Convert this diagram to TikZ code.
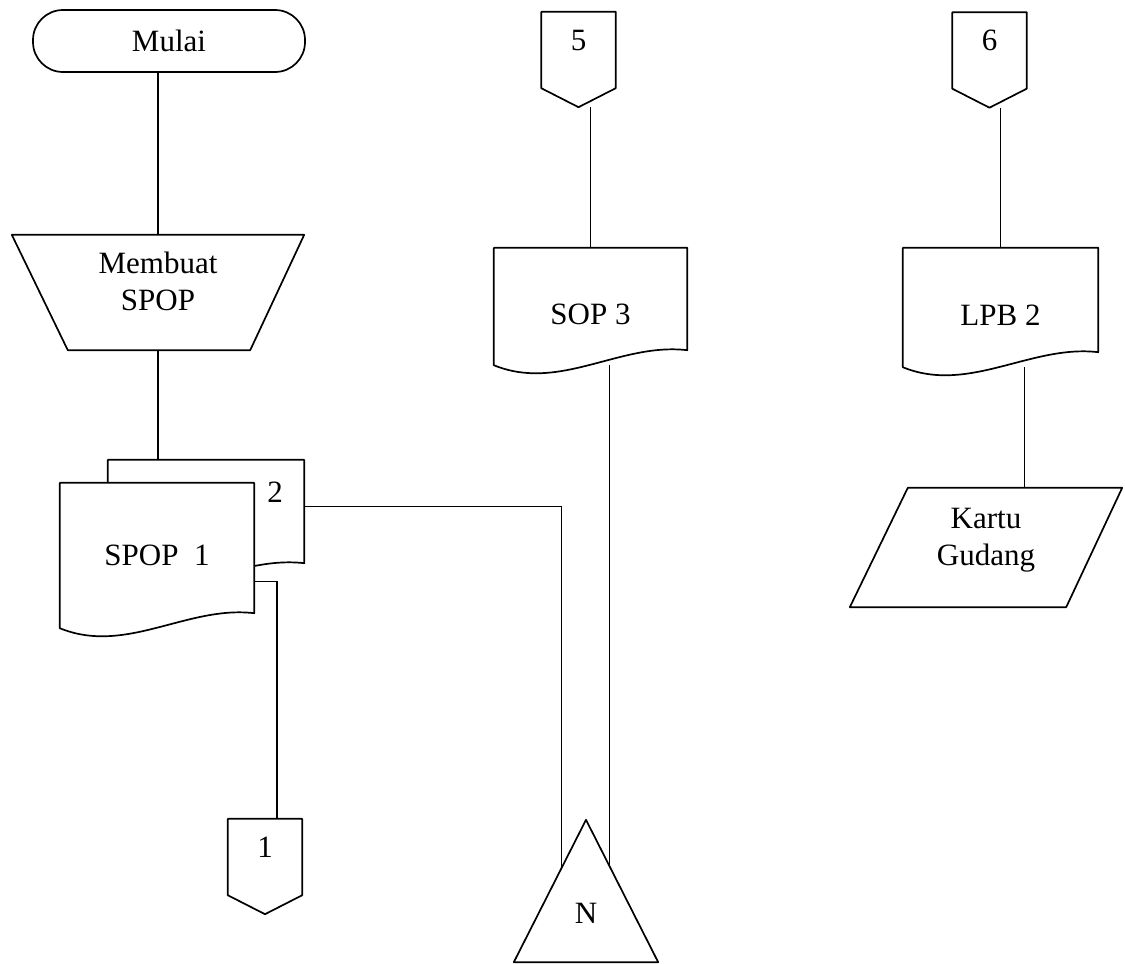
\documentclass[tikz,border=0pt]{standalone}
\usepackage{fontspec}
\setmainfont{Liberation Serif}
\usetikzlibrary{calc,backgrounds}

\begin{document}
\begin{tikzpicture}[
    x=1pt, y=-1pt,
    font=\fontsize{31}{37}\selectfont,
    shp/.style={line width=1.7pt, line join=round},
    ln/.style={line width=1.2pt},
    term/.style={draw, line width=1.7pt, rounded corners=30pt, minimum width=272pt, minimum height=62pt, inner sep=0pt},
    manop/.style={minimum width=292pt, minimum height=115pt, align=center, inner sep=0pt, text height=58pt, text depth=22pt},
    docu/.style={minimum width=194pt, minimum height=117pt, inner sep=0pt},
    lowtxt/.style={text height=36pt, text depth=0pt},
    offp/.style={minimum width=74pt, minimum height=76pt, inner sep=0pt, text depth=20pt},
    tri/.style={minimum width=144pt, minimum height=142pt, inner sep=0pt, text height=65pt, text depth=0pt},
    para/.style={minimum width=272pt, minimum height=119pt, align=center, inner sep=0pt, text height=58pt, text depth=22pt},
    lbl/.style={inner sep=0pt}
]
\useasboundingbox (0,0) rectangle (1125,964);

% kolom kiri
\node[term] (mulai) at (169,41) {Mulai};
\node[manop] (membuat) at (158,292.5) {Membuat\\SPOP};
\node[docu, minimum width=196pt, minimum height=118pt] (spop2) at (206,519) {};
\node[docu, minimum height=145pt] (spop1) at (157,555.5) {SPOP~~1};
\node[lbl] (nomor2) at (275,492) {2};
\node[offp] (off1) at (265,857) {1};

% kolom tengah
\node[offp] (off5) at (578.5,50) {5};
\node[docu, lowtxt, minimum width=193pt] (sop3) at (590.5,306.5) {SOP 3};
\node[tri] (arsipN) at (586,891) {N};

% kolom kanan
\node[offp] (off6) at (989.5,50.5) {6};
\node[docu, lowtxt, minimum width=195pt, minimum height=119pt] (lpb2) at (1000.5,307.5) {LPB 2};
\node[para] (kartu) at (986,547.5) {Kartu\\Gudang};

\begin{scope}[on background layer]
\draw[shp] (membuat.north west) -- (membuat.north east) -- ([xshift=-54pt]membuat.south east) -- ([xshift=56pt]membuat.south west) -- cycle;
\foreach \d in {spop2,spop1,sop3,lpb2}
  \draw[shp, fill=white] (\d.south west) -- (\d.north west) -- (\d.north east) -- ($(\d.south east)+(0,-15)$)
    .. controls +(-67,-8) and +(66,27) .. (\d.south west) -- cycle;
\foreach \c in {off1,off5,off6}
  \draw[shp] (\c.north west) -- (\c.north east) -- (\c.south east) -- ($(\c.south)+(0,19)$) -- (\c.south west) -- cycle;
\draw[shp] (arsipN.south west) -- (arsipN.north) -- (arsipN.south east) -- cycle;
\draw[shp] ([xshift=58pt]kartu.north west) -- (kartu.north east) -- ([xshift=-56pt]kartu.south east) -- (kartu.south west) -- cycle;
\end{scope}

\coordinate (tip5) at ($(off5.south)+(0,19)$);
\coordinate (tip6) at ($(off6.south)+(0,19)$);
\coordinate (nkiri) at ($(arsipN.north)!0.34!(arsipN.south west)$);
\coordinate (nkanan) at ($(arsipN.north)!0.33!(arsipN.south east)$);
\coordinate (lpbout) at ([xshift=24pt]lpb2.south);

\draw[ln] (mulai.south -| membuat.north) -- (membuat.north);
\draw[ln] (membuat.south) -- (membuat.south |- spop2.north);
\draw[ln] ($(spop2.north east)+(0,47)$) -| (nkiri);
\draw[ln] ($(spop1.north east)+(0,99)$) -| ([xshift=12pt]off1.north);
\draw[ln] (tip5 -| sop3.north) -- (sop3.north);
\draw[ln] (nkanan |- sop3.south) -- (nkanan);
\draw[ln] (tip6 -| lpb2.north) -- (lpb2.north);
\draw[ln] (lpbout) -- (lpbout |- kartu.north);
\end{tikzpicture}
\end{document}
